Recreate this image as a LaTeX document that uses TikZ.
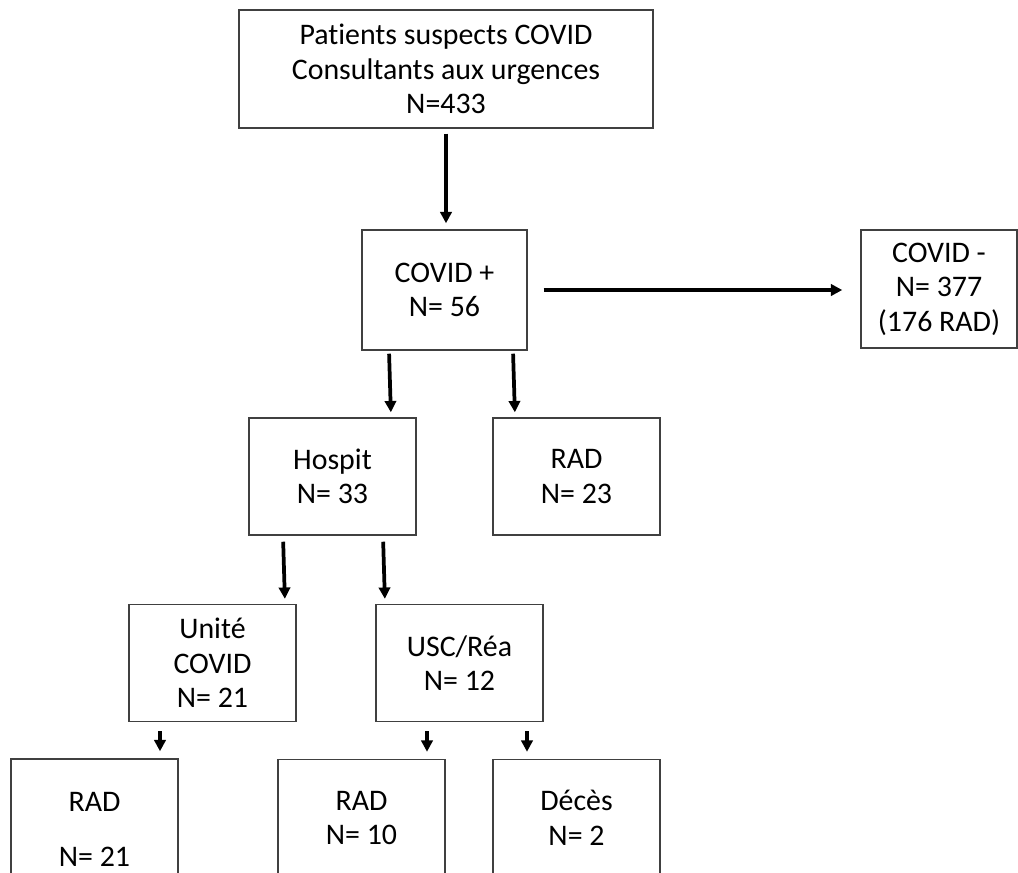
\documentclass[tikz,border=0pt]{standalone}
\usepackage{fontspec}
\setmainfont{Carlito}[Ligatures=NoCommon]
\usetikzlibrary{arrows.meta,calc}

\begin{document}
\begin{tikzpicture}[x=0.75pt, y=-0.75pt]

	% Define custom style for boxes and arrows
	\tikzstyle{box} = [rectangle, draw=black!75, line width=1.1pt, align=center, minimum width=125.25pt, minimum height=87.75pt, font=\fontsize{22.4}{25.9}\selectfont]
	\tikzstyle{arrow} = [line width=2.8pt, -{Triangle[length=8.5pt, width=8.5pt]}]

	\clip (0,0) rectangle (1018,872);

	% Nodes of the flow chart
	\node[box, minimum width=310.5pt, minimum height=88.5pt] (patients) at (446,69) {Patients suspects COVID\\Consultants aux urgences\\N=433};
	\node[box, minimum width=123.75pt, minimum height=90pt] (covplus) at (444.5,290) {COVID +\\N= 56};
	\node[box, minimum width=117pt, minimum height=88.5pt] (covminus) at (939,289) {COVID -\\N= 377\\(176 RAD)};
	\node[box] (hospit) at (332.5,476.5) {Hospit\\N= 33};
	\node[box] (radone) at (576.5,476.5) {RAD\\N= 23};
	\node[box] (unite) at (212.5,663) {Unité\\COVID\\N= 21};
	\node[box] (usc) at (459.5,663) {USC/Réa\\N= 12};
	\node[box, minimum height=105.75pt] (radtwo) at (94.5,829.5) {RAD\\[15pt]N= 21};
	\node[box] (radthree) at (361.5,818) {RAD\\N= 10};
	\node[box] (deces) at (576.5,818) {Décès\\N= 2};

	% Arrows connecting the boxes
	\draw[arrow, shorten <=3.75pt, shorten >=4.5pt] (patients.south) -- (covplus.north -| patients.south);
	\draw[arrow, shorten <=12pt, shorten >=13.5pt] (covplus.east) -- (covplus.east -| covminus.west);
	\draw[arrow, shorten <=2.25pt, shorten >=3.75pt] ($(covplus.south)+(-55.5,0)$) -- ($(hospit.north)+(58.5,0)$);
	\draw[arrow, shorten <=2.25pt, shorten >=3.75pt] ($(covplus.south)+(68.5,0)$) -- ($(radone.north)+(-61.5,0)$);
	\draw[arrow, shorten <=4.5pt, shorten >=3.75pt] ($(hospit.south)+(-49.5,0)$) -- ($(unite.north)+(72.5,0)$);
	\draw[arrow, shorten <=4.5pt, shorten >=3.75pt] ($(hospit.south)+(50.5,0)$) -- ($(usc.north)+(-74.5,0)$);
	\draw[arrow, shorten <=6.75pt, shorten >=5.25pt] ($(unite.south)+(-52.5,0)$) -- ($(radtwo.north)+(65.5,0)$);
	\draw[arrow, shorten <=6.75pt, shorten >=5.25pt] ($(usc.south)+(-32.5,0)$) -- ($(radthree.north)+(65.5,0)$);
	\draw[arrow, shorten <=6.75pt, shorten >=5.25pt] ($(usc.south)+(67.5,0)$) -- ($(deces.north)+(-49.5,0)$);

\end{tikzpicture}
\end{document}
